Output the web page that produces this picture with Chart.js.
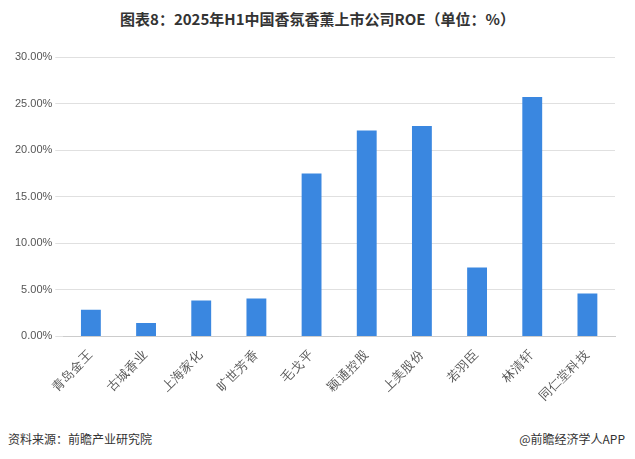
<!DOCTYPE html>
<html>
<head>
<meta charset="utf-8">
<script src="https://cdn.jsdelivr.net/npm/chart.js"></script>
<style>
  body { margin: 0; background: #fff; font-family: "Noto Sans CJK SC", sans-serif; }
  #wrap { position: relative; width: 635px; height: 459px; }
  #title { position: absolute; top: 8px; width: 635px; text-align: center; font-size: 15px; font-weight: bold; color: #333; }
  #chartBox { position: absolute; left: 0; top: 45px; width: 635px; height: 380px; }
  #src { position: absolute; left: 8px; top: 430px; font-size: 12px; color: #333; }
  #brand { position: absolute; right: 10px; top: 430px; font-size: 12px; color: #333; }
</style>
</head>
<body>
<div id="wrap">
  <div id="title">图表8：2025年H1中国香氛香薰上市公司ROE（单位：%）</div>
  <div id="chartBox"><canvas id="roe"></canvas></div>
  <div id="src">资料来源：前瞻产业研究院</div>
  <div id="brand">@前瞻经济学人APP</div>
</div>
<script>
const companies = ['青岛金王', '古城香业', '上海家化', '旷世芳香', '毛戈平', '颖通控股', '上美股份', '若羽臣', '林清轩', '同仁堂科技'];
const roeValues = [2.86, 1.43, 3.85, 4.07, 17.5, 22.1, 22.6, 7.4, 25.7, 4.6];

const ctx = document.getElementById('roe');
new Chart(ctx, {
    type: 'bar',
    data: {
        labels: companies,
        datasets: [{
            label: 'ROE',
            data: roeValues,
            backgroundColor: '#3a87e0',
            barPercentage: 0.36,
            categoryPercentage: 1.0,
        }]
    },
    options: {
        responsive: true,
        maintainAspectRatio: false,
        animation: false,
        layout: { padding: { left: 12, right: 20, top: 12, bottom: 18 } },
        scales: {
            y: {
                min: 0,
                max: 30,
                ticks: {
                    stepSize: 5,
                    color: '#555',
                    font: { size: 11 },
                    callback: v => v.toFixed(2) + '%',
                },
                grid: { color: '#e0e0e0' },
                border: { display: false },
            },
            x: {
                ticks: {
                    color: '#555',
                    font: { size: 12.5 },
                    maxRotation: 45,
                    minRotation: 45,
                },
                grid: { display: false },
                border: { color: '#ccc' },
            },
        },
        plugins: {
            legend: { display: false },
            tooltip: { enabled: false },
        }
    }
});
</script>
</body>
</html>
